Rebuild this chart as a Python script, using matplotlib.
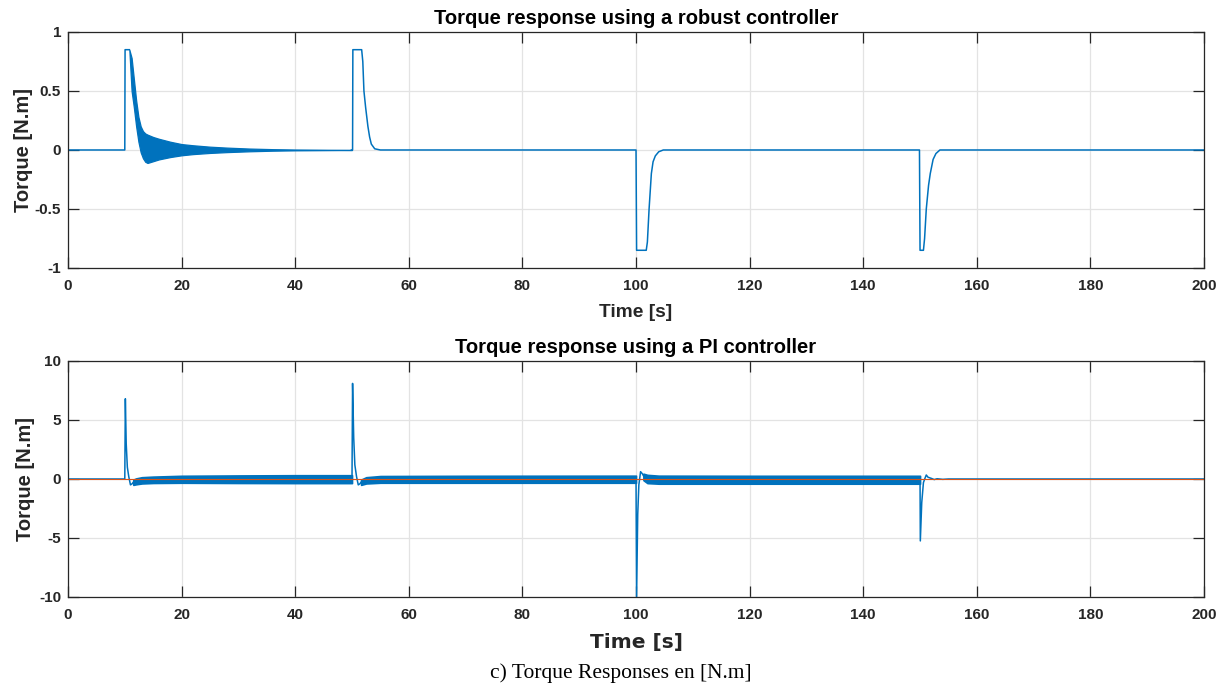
import matplotlib
matplotlib.use("Agg")
import matplotlib.pyplot as plt
import numpy as np

BLUE = "#0072BD"
RED = "#D95319"
AX_COL = "#262626"

# ---- robust controller: line segments (s, N.m) ----
robust_step1_t = [0, 10.0, 10.05, 10.8]
robust_step1_tau = [0, 0, 0.85, 0.85]
robust_rest_t = [49.9, 50.1, 50.15, 51.7, 51.9, 52.1, 52.4, 52.8, 53.1, 53.4, 54.0, 55.0,
                 100.0, 100.1, 101.8, 102.0, 102.3, 102.7, 103.0, 103.4, 104.0, 104.8,
                 149.9, 150.0, 150.6, 150.8, 151.1, 151.5, 151.8, 152.3, 152.8, 153.5, 200]
robust_rest_tau = [0, 0, 0.85, 0.85, 0.75, 0.5, 0.36, 0.2, 0.11, 0.05, 0.01, 0,
                   0, -0.85, -0.85, -0.78, -0.5, -0.2, -0.1, -0.05, -0.015, 0,
                   0, -0.85, -0.85, -0.75, -0.5, -0.3, -0.2, -0.08, -0.03, 0, 0]

# oscillation envelope after the first step
robust_band_t = [10.8, 11.2, 11.6, 12.0, 12.4, 12.8, 13.2, 13.6, 14.0, 15, 16,
                 18, 20, 22, 25, 28, 32, 36, 40, 45, 50]
robust_band_hi = [0.85, 0.78, 0.6, 0.42, 0.28, 0.2, 0.16, 0.14, 0.13, 0.11, 0.095,
                  0.07, 0.05, 0.04, 0.028, 0.02, 0.012, 0.007, 0.004, 0.002, 0]
robust_band_lo = [0.85, 0.5, 0.36, 0.2, 0.07, -0.02, -0.07, -0.10, -0.11, -0.095, -0.08,
                  -0.06, -0.045, -0.035, -0.025, -0.018, -0.011, -0.006, -0.003, -0.0015, 0]

# ---- PI controller: spikes ----
pi_spike1_t = [0, 10.0, 10.1, 10.25, 10.45, 10.7, 11.0, 11.3, 11.6]
pi_spike1_tau = [0, 0, 6.8, 3.0, 1.0, 0.2, -0.5, -0.4, -0.2]
pi_spike2_t = [49.9, 50.0, 50.1, 50.3, 50.5, 50.8, 51.1, 51.4, 51.7]
pi_spike2_tau = [0, 0, 8.1, 3.5, 1.2, 0.2, -0.5, -0.4, -0.2]
pi_spike3_t = [99.9, 100.0, 100.1, 100.3, 100.5, 100.8, 101.1, 101.4]
pi_spike3_tau = [0, 0, -10.0, -3.0, -0.5, 0.62, 0.45, 0.2]
pi_spike4_t = [149.9, 150.0, 150.05, 150.3, 150.6, 150.9, 151.1, 151.4, 152.0, 152.5,
               153.0, 154.0, 155.0, 200]
pi_spike4_tau = [0, 0, -5.25, -2.0, -0.3, 0.1, 0.34, 0.15, 0.05, -0.05,
                 0.02, -0.03, 0, 0]

# PI oscillation bands between steps
pi_band1_t = [11.5, 12, 13, 15, 20, 30, 40, 50]
pi_band1_hi = [-0.05, 0.05, 0.15, 0.2, 0.27, 0.3, 0.32, 0.32]
pi_band1_lo = [-0.5, -0.45, -0.38, -0.34, -0.32, -0.34, -0.35, -0.35]
pi_band2_t = [51.6, 52.5, 55, 70, 100]
pi_band2_hi = [-0.05, 0.15, 0.25, 0.27, 0.28]
pi_band2_lo = [-0.5, -0.38, -0.32, -0.32, -0.32]
pi_band3_t = [101.3, 102, 104, 120, 150]
pi_band3_hi = [0.45, 0.35, 0.28, 0.27, 0.27]
pi_band3_lo = [-0.1, -0.35, -0.4, -0.4, -0.4]

x_ticks = [0, 20, 40, 60, 80, 100, 120, 140, 160, 180, 200]
robust_yticks = [-1, -0.5, 0, 0.5, 1]
pi_yticks = [-10, -5, 0, 5, 10]

plt.rcParams.update({
    "font.family": ["Liberation Sans", "DejaVu Sans"],
    "axes.unicode_minus": False,
    "font.weight": "bold",
})


def style_axes(ax, yticks, ylim):
    ax.set_xlim(0, 200)
    ax.set_ylim(*ylim)
    ax.set_xticks(x_ticks)
    ax.set_yticks(yticks)
    ax.set_yticklabels([f"{v:g}" for v in yticks])
    ax.tick_params(direction="in", length=8, width=0.9, top=True, right=True,
                   labelsize=11, colors=AX_COL)
    ax.tick_params(axis="x", pad=8)
    ax.tick_params(axis="y", pad=5)
    for lab in ax.get_xticklabels() + ax.get_yticklabels():
        lab.set_fontweight("bold")
    for sp in ax.spines.values():
        sp.set_color(AX_COL)
        sp.set_linewidth(0.9)
    ax.grid(True, color="#e3e3e3", lw=0.9)
    ax.set_axisbelow(True)


fig = plt.figure(figsize=(12.25, 6.88), dpi=100)
ax1 = fig.add_axes([0.0555, 0.6105, 0.9274, 0.343])
ax2 = fig.add_axes([0.0555, 0.1323, 0.9274, 0.343])

# top: robust controller
ax1.fill_between(robust_band_t, robust_band_lo, robust_band_hi, color=BLUE, lw=0.9)
ax1.plot(robust_step1_t, robust_step1_tau, color=BLUE, lw=1.1)
ax1.plot(robust_rest_t, robust_rest_tau, color=BLUE, lw=1.1)
style_axes(ax1, robust_yticks, (-1, 1))
ax1.set_title("Torque response using a robust controller", fontsize=14.5,
              fontweight="bold", color="black", pad=6)
ax1.set_xlabel("Time [s]", fontsize=13.8, fontweight="bold", color=AX_COL, labelpad=8)
ax1.set_ylabel("Torque [N.m]", fontsize=14.5, fontweight="bold", color=AX_COL, labelpad=1)

# bottom: PI controller
for bt, lo, hi in [(pi_band1_t, pi_band1_lo, pi_band1_hi),
                   (pi_band2_t, pi_band2_lo, pi_band2_hi),
                   (pi_band3_t, pi_band3_lo, pi_band3_hi)]:
    ax2.fill_between(bt, lo, hi, color=BLUE, lw=1.2)
for st, sv in [(pi_spike1_t, pi_spike1_tau), (pi_spike2_t, pi_spike2_tau),
               (pi_spike3_t, pi_spike3_tau), (pi_spike4_t, pi_spike4_tau)]:
    ax2.plot(st, sv, color=BLUE, lw=1.1)
ax2.plot([0, 200], [0, 0], color=RED, lw=0.8)
style_axes(ax2, pi_yticks, (-10, 10))
ax2.set_title("Torque response using a PI controller", fontsize=14.5,
              fontweight="bold", color="black", pad=6)
ax2.set_xlabel("Time [s]", fontsize=14.5, fontweight="heavy", color=AX_COL,
               labelpad=8, family="DejaVu Sans")
ax2.set_ylabel("Torque [N.m]", fontsize=14.5, fontweight="bold", color=AX_COL, labelpad=3)

fig.text(0.507, 0.022, "c) Torque Responses en [N.m]", ha="center", va="center",
         fontsize=15.5, fontweight="normal", family="Liberation Serif")

fig.savefig("out.png", dpi=100)
